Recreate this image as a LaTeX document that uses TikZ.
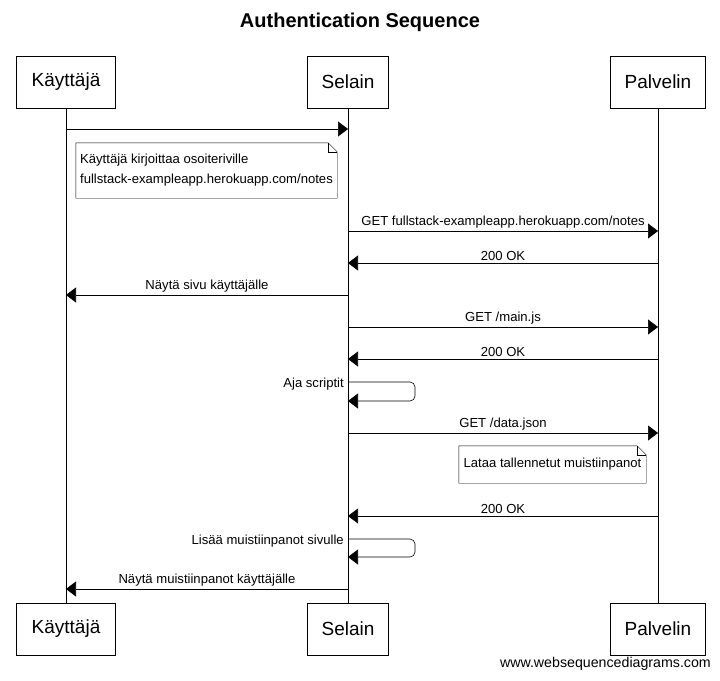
\documentclass[tikz,border=0pt]{standalone}
\usepackage{fontspec}
\setmainfont{Liberation Sans}
\usetikzlibrary{positioning, arrows.meta, calc}

\begin{document}
\begin{tikzpicture}[
            x=1pt, y=-1pt,
            actor/.style={rectangle, draw, thin, minimum height=52pt, inner sep=0pt, font=\fontsize{19}{22}\selectfont},
            msg/.style={-{Triangle[length=10pt,width=15pt]}, semithick},
            lbl/.style={above=1.5pt, inner sep=1pt, font=\fontsize{13.1}{15}\selectfont},
            notebox/.style={rectangle, inner sep=3pt, align=left, font=\fontsize{13.1}{20}\selectfont},
            life/.style={thin}
        ]
        \useasboundingbox (0,0) rectangle (720,680);

        \node[font=\bfseries\fontsize{20}{24}\selectfont] (title) at (360,22) {Authentication Sequence};

        \node[actor, minimum width=99pt] (kayT) at (66,82) {Käyttäjä};
        \node[actor, minimum width=81pt] (selT) at (348,82) {Selain};
        \node[actor, minimum width=95pt] (palT) at (658,82) {Palvelin};
        \node[actor, minimum width=99pt] (kayB) at (66,629) {Käyttäjä};
        \node[actor, minimum width=81pt] (selB) at (348,629) {Selain};
        \node[actor, minimum width=95pt] (palB) at (658,629) {Palvelin};

        \draw[life] (kayT) -- (kayB);
        \draw[life] (selT) -- (selB);
        \draw[life] (palT) -- (palB);

        % viestien pisteet
        \coordinate (k1) at (66,129);   \coordinate (s1) at (348,129);
        \coordinate (s3) at (348,231);  \coordinate (p3) at (658,231);
        \coordinate (s4) at (348,263);  \coordinate (p4) at (658,263);
        \coordinate (k5) at (66,295);   \coordinate (s5) at (348,295);
        \coordinate (s6) at (348,327);  \coordinate (p6) at (658,327);
        \coordinate (s7) at (348,359);  \coordinate (p7) at (658,359);
        \coordinate (s8a) at (348,382); \coordinate (s8b) at (348,401);
        \coordinate (s9) at (348,433);  \coordinate (p9) at (658,433);
        \coordinate (s11) at (348,516); \coordinate (p11) at (658,516);
        \coordinate (s12a) at (348,539); \coordinate (s12b) at (348,557);
        \coordinate (k13) at (66,589);  \coordinate (s13) at (348,589);

        \draw[msg] (k1) -- (s1);

        \node[notebox, minimum width=261pt, minimum height=55pt] (note1) at (206.5,170.5)
            {Käyttäjä kirjoittaa osoiteriville\\fullstack-exampleapp.herokuapp.com/notes};
        \draw[thin] (note1.north west) -- ($(note1.north east)+(-9,0)$) -- ($(note1.north east)+(0,9)$)
            -- (note1.south east) -- (note1.south west) -- cycle;
        \draw[thin] ($(note1.north east)+(-9,0)$) |- ($(note1.north east)+(0,9)$);

        \draw[msg] (s3) -- node[lbl] {GET fullstack-exampleapp.herokuapp.com/notes} (p3);
        \draw[msg] (p4) -- node[lbl] {200 OK} (s4);
        \draw[msg] (s5) -- node[lbl] {Näytä sivu käyttäjälle} (k5);
        \draw[msg] (s6) -- node[lbl] {GET /main.js} (p6);
        \draw[msg] (p7) -- node[lbl] {200 OK} (s7);

        \draw[msg, rounded corners=5pt] (s8a) -- ++(67,0) -- ++(0,19) -- (s8b);
        \node[lbl, above=-2pt, anchor=east] (aja) at ($(s8a)+(-3,0)$) {Aja scriptit};

        \draw[msg] (s9) -- node[lbl] {GET /data.json} (p9);

        \node[notebox, minimum width=187pt, minimum height=37pt] (note2) at (552.5,464.5)
            {Lataa tallennetut muistiinpanot};
        \draw[thin] (note2.north west) -- ($(note2.north east)+(-9,0)$) -- ($(note2.north east)+(0,9)$)
            -- (note2.south east) -- (note2.south west) -- cycle;
        \draw[thin] ($(note2.north east)+(-9,0)$) |- ($(note2.north east)+(0,9)$);

        \draw[msg] (p11) -- node[lbl] {200 OK} (s11);

        \draw[msg, rounded corners=5pt] (s12a) -- ++(67,0) -- ++(0,18) -- (s12b);
        \node[lbl, above=-2pt, anchor=east] (lisaa) at ($(s12a)+(-3,0)$) {Lisää muistiinpanot sivulle};

        \draw[msg] (s13) -- node[lbl] {Näytä muistiinpanot käyttäjälle} (k13);

        \node[anchor=east, inner sep=0pt, font=\fontsize{14.2}{16}\selectfont] (www) at (711,664) {www.websequencediagrams.com};
    \end{tikzpicture}
\end{document}
